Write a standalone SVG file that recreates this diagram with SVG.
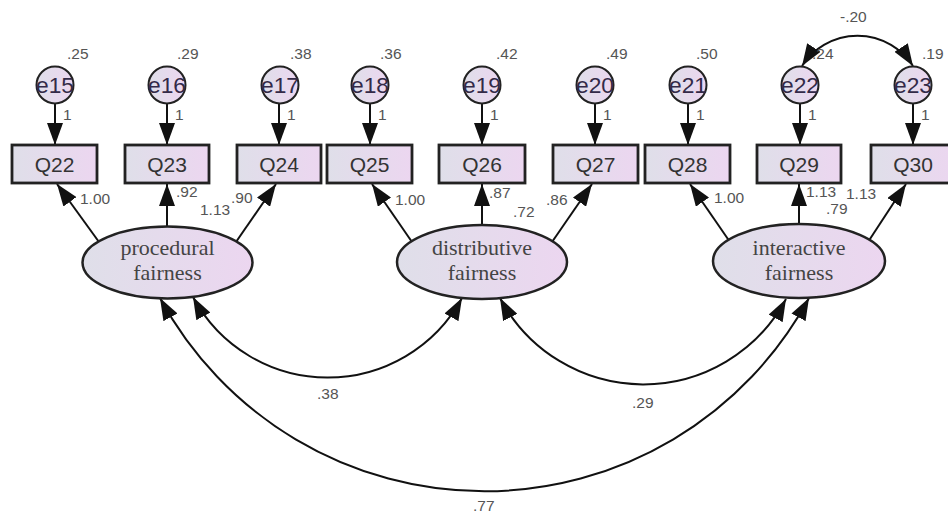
<svg xmlns="http://www.w3.org/2000/svg" width="948" height="515" viewBox="0 0 948 515">
  <style>
    .obs { stroke: #222; stroke-width: 2.8; fill: url(#lav); }
    .err { stroke: #222; stroke-width: 2; fill: url(#lav); }
    .lat { stroke: #222; stroke-width: 2.5; fill: url(#lav); }
    .path { stroke: #111; stroke-width: 2; fill: none; marker-end: url(#ah); }
    .cov { stroke: #111; stroke-width: 2; fill: none; marker-start: url(#ah); marker-end: url(#ah); }
    .box-t { font-family: "Liberation Sans", Arial, sans-serif; font-size: 21px; fill: #333; text-anchor: middle; }
    .err-t { font-family: "Liberation Sans", Arial, sans-serif; font-size: 22px; fill: #332a48; text-anchor: middle; }
    .lat-t { font-family: "Liberation Serif", "Times New Roman", serif; font-size: 22px; fill: #444; text-anchor: middle; }
    .num { font-family: "Liberation Sans", Arial, sans-serif; font-size: 15.5px; fill: #555; }
  </style>
  <defs>
    <linearGradient id="lav" x1="0" y1="0" x2="1" y2="0">
      <stop offset="0" stop-color="#dfdfe9"/>
      <stop offset="1" stop-color="#ecd6f0"/>
    </linearGradient>
    <marker id="ah" viewBox="0 0 22 16" refX="22" refY="8" markerWidth="22" markerHeight="16" markerUnits="userSpaceOnUse" orient="auto-start-reverse">
      <path d="M0,0 L22,8 L0,16 z" fill="#111"/>
    </marker>
  </defs>

  <!-- connectors -->
  <g id="connectors">
    <!-- error terms to indicators -->
    <line class="path" x1="55" y1="103" x2="55" y2="145"/>
    <line class="path" x1="167" y1="103" x2="167" y2="145"/>
    <line class="path" x1="279" y1="103" x2="279" y2="145"/>
    <line class="path" x1="370" y1="103" x2="370" y2="145"/>
    <line class="path" x1="482" y1="103" x2="482" y2="145"/>
    <line class="path" x1="595" y1="103" x2="595" y2="145"/>
    <line class="path" x1="688" y1="103" x2="688" y2="145"/>
    <line class="path" x1="800" y1="103" x2="800" y2="145"/>
    <line class="path" x1="913" y1="103" x2="913" y2="145"/>
    <!-- factor loadings -->
    <line class="path" x1="99" y1="242" x2="57" y2="184"/>
    <line class="path" x1="167" y1="230" x2="167" y2="184"/>
    <line class="path" x1="236" y1="242" x2="276" y2="184"/>
    <line class="path" x1="412" y1="242" x2="372" y2="184"/>
    <line class="path" x1="482" y1="229" x2="482" y2="184"/>
    <line class="path" x1="552" y1="242" x2="592" y2="184"/>
    <line class="path" x1="730" y1="242" x2="690" y2="184"/>
    <line class="path" x1="799" y1="228" x2="799" y2="184"/>
    <line class="path" x1="868" y1="242" x2="906" y2="184"/>
    <!-- covariances -->
    <path class="cov" d="M193,297 A153,153 0 0,0 462,298"/>
    <path class="cov" d="M500,298 A162,162 0 0,0 786,299"/>
    <path class="cov" d="M160,298 A369,369 0 0,0 809,298"/>
    <path class="cov" d="M802,66 A66,66 0 0,1 913,66"/>
  </g>

  <!-- indicators -->
  <g id="Q22"><rect class="obs" x="12" y="145" width="85" height="38"/><text class="box-t" x="54.5" y="172">Q22</text></g>
  <g id="Q23"><rect class="obs" x="125" y="145" width="84" height="38"/><text class="box-t" x="167" y="172">Q23</text></g>
  <g id="Q24"><rect class="obs" x="237" y="145" width="84" height="38"/><text class="box-t" x="279" y="172">Q24</text></g>
  <g id="Q25"><rect class="obs" x="327" y="145" width="85" height="38"/><text class="box-t" x="369.5" y="172">Q25</text></g>
  <g id="Q26"><rect class="obs" x="439" y="145" width="86" height="38"/><text class="box-t" x="482" y="172">Q26</text></g>
  <g id="Q27"><rect class="obs" x="553" y="145" width="85" height="38"/><text class="box-t" x="595.5" y="172">Q27</text></g>
  <g id="Q28"><rect class="obs" x="645" y="145" width="85" height="38"/><text class="box-t" x="687.5" y="172">Q28</text></g>
  <g id="Q29"><rect class="obs" x="757" y="145" width="84" height="38"/><text class="box-t" x="799" y="172">Q29</text></g>
  <g id="Q30"><rect class="obs" x="871" y="145" width="85" height="38"/><text class="box-t" x="913" y="172">Q30</text></g>

  <!-- error terms -->
  <g id="e15"><circle class="err" cx="55" cy="85" r="18.5"/><text class="err-t" x="55" y="93" textLength="38" lengthAdjust="spacingAndGlyphs">e15</text></g>
  <g id="e16"><circle class="err" cx="167" cy="85" r="18.5"/><text class="err-t" x="167" y="93" textLength="38" lengthAdjust="spacingAndGlyphs">e16</text></g>
  <g id="e17"><circle class="err" cx="280" cy="85" r="18.5"/><text class="err-t" x="280" y="93" textLength="38" lengthAdjust="spacingAndGlyphs">e17</text></g>
  <g id="e18"><circle class="err" cx="370" cy="85" r="18.5"/><text class="err-t" x="370" y="93" textLength="38" lengthAdjust="spacingAndGlyphs">e18</text></g>
  <g id="e19"><circle class="err" cx="482" cy="85" r="18.5"/><text class="err-t" x="482" y="93" textLength="38" lengthAdjust="spacingAndGlyphs">e19</text></g>
  <g id="e20"><circle class="err" cx="595" cy="85" r="18.5"/><text class="err-t" x="595" y="93" textLength="38" lengthAdjust="spacingAndGlyphs">e20</text></g>
  <g id="e21"><circle class="err" cx="688" cy="85" r="18.5"/><text class="err-t" x="688" y="93" textLength="38" lengthAdjust="spacingAndGlyphs">e21</text></g>
  <g id="e22"><circle class="err" cx="800" cy="85" r="18.5"/><text class="err-t" x="800" y="93" textLength="38" lengthAdjust="spacingAndGlyphs">e22</text></g>
  <g id="e23"><circle class="err" cx="913" cy="85" r="18.5"/><text class="err-t" x="913" y="93" textLength="38" lengthAdjust="spacingAndGlyphs">e23</text></g>

  <!-- latent factors -->
  <g id="procedural"><ellipse class="lat" cx="167.5" cy="262.5" rx="85" ry="36"/><text class="lat-t" x="167.5" y="255">procedural</text><text class="lat-t" x="167.5" y="280">fairness</text></g>
  <g id="distributive"><ellipse class="lat" cx="482" cy="262" rx="85" ry="37"/><text class="lat-t" x="482" y="255">distributive</text><text class="lat-t" x="482" y="280">fairness</text></g>
  <g id="interactive"><ellipse class="lat" cx="799" cy="261" rx="86" ry="37"/><text class="lat-t" x="799" y="255">interactive</text><text class="lat-t" x="799" y="280">fairness</text></g>

  <!-- estimates -->
  <g id="estimates">
    <text class="num" x="67" y="59">.25</text>
    <text class="num" x="177" y="59">.29</text>
    <text class="num" x="290" y="59">.38</text>
    <text class="num" x="380" y="59">.36</text>
    <text class="num" x="496" y="59">.42</text>
    <text class="num" x="606" y="59">.49</text>
    <text class="num" x="696" y="59">.50</text>
    <text class="num" x="812" y="59">.24</text>
    <text class="num" x="922" y="59">.19</text>
    <text class="num" x="840" y="22">-.20</text>

    <text class="num" x="63" y="120">1</text>
    <text class="num" x="175" y="120">1</text>
    <text class="num" x="287" y="120">1</text>
    <text class="num" x="378" y="120">1</text>
    <text class="num" x="490" y="120">1</text>
    <text class="num" x="603" y="120">1</text>
    <text class="num" x="696" y="120">1</text>
    <text class="num" x="808" y="120">1</text>
    <text class="num" x="921" y="120">1</text>

    <text class="num" x="80" y="204">1.00</text>
    <text class="num" x="176" y="197">.92</text>
    <text class="num" x="200" y="215">1.13</text>
    <text class="num" x="231" y="203">.90</text>

    <text class="num" x="395" y="205">1.00</text>
    <text class="num" x="489" y="198">.87</text>
    <text class="num" x="513" y="217">.72</text>
    <text class="num" x="546" y="205">.86</text>

    <text class="num" x="714" y="203">1.00</text>
    <text class="num" x="806" y="197">1.13</text>
    <text class="num" x="826" y="214">.79</text>
    <text class="num" x="846" y="199">1.13</text>

    <text class="num" x="317" y="399">.38</text>
    <text class="num" x="632" y="408">.29</text>
    <text class="num" x="473" y="511">.77</text>
  </g>
</svg>
